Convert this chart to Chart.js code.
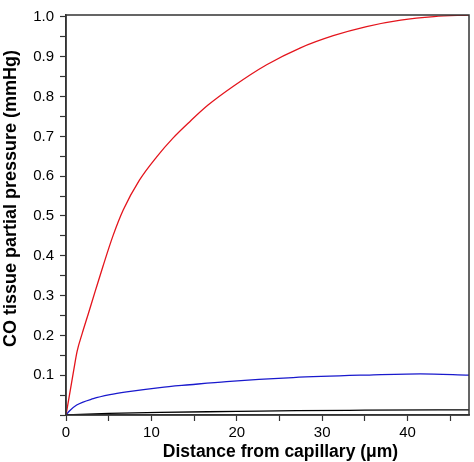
<!DOCTYPE html>
<html>
<head>
<meta charset="utf-8">
<script src="https://cdn.jsdelivr.net/npm/chart.js@4/dist/chart.umd.min.js"></script>
<style>
    html, body { margin: 0; padding: 0; background: #fff; }
    #wrap { width: 474px; height: 462px; }
</style>
</head>
<body>
<div id="wrap"><canvas id="c"></canvas></div>
<script>
// データ
const redX   = [0, 0.5, 0.9, 1.3, 1.9, 2.65, 3.45, 4.35, 5.5, 6.7, 8.6, 10.6, 12.5, 14.5, 16.6, 19.6, 23.5, 27.4, 31.3, 35.2, 39.2, 43.1, 47.2];
const redY   = [0, 0.062, 0.112, 0.16, 0.205, 0.257, 0.313, 0.375, 0.45, 0.515, 0.59, 0.648, 0.695, 0.737, 0.778, 0.826, 0.88, 0.922, 0.953, 0.976, 0.992, 1.001, 1.005];
const blueX  = [0, 0.4, 1.25, 3.2, 5.15, 7.1, 11, 14.5, 18.8, 26.6, 34.5, 41.5, 47.2];
const blueY  = [0, 0.01, 0.025, 0.041, 0.051, 0.058, 0.069, 0.076, 0.084, 0.094, 0.100, 0.1035, 0.100];
const blackX = [0, 5, 11, 20, 27, 35, 47.2];
const blackY = [0, 0.004, 0.0067, 0.009, 0.011, 0.012, 0.013];

const xTitle = 'Distance from capillary (μm)';
const yTitle = 'CO tissue partial pressure (mmHg)';
const FONT = '"Liberation Sans", Arial, sans-serif';

const toPoints = (xs, ys) => xs.map((x, i) => ({ x: x, y: ys[i] }));

function lineSet(data, color) {
    return {
        data: data,
        borderColor: color,
        borderWidth: 1.3,
        pointRadius: 0,
        fill: false,
        cubicInterpolationMode: 'monotone'
    };
}

// 枠線と軸タイトル
const framePlugin = {
    id: 'frame',
    afterDraw(chart) {
        const { ctx, chartArea: a } = chart;
        ctx.save();
        ctx.strokeStyle = '#333';
        ctx.lineWidth = 1.5;
        ctx.strokeRect(a.left, a.top, a.right - a.left, a.bottom - a.top);

        ctx.fillStyle = '#000';
        ctx.textAlign = 'center';
        ctx.textBaseline = 'middle';
        ctx.font = 'bold 17.5px ' + FONT;
        ctx.fillText(xTitle, (a.left + a.right) / 2 + 13, a.bottom + 37);

        ctx.font = 'bold 18px ' + FONT;
        ctx.translate(11, (a.top + a.bottom) / 2 - 16.5);
        ctx.rotate(-Math.PI / 2);
        ctx.fillText(yTitle, 0, 0);
        ctx.restore();
    }
};

const isTenth = v => Math.abs(v * 10 - Math.round(v * 10)) < 1e-6;

new Chart(document.getElementById('c'), {
    type: 'line',
    data: {
        datasets: [
            lineSet(toPoints(redX, redY), 'rgb(228, 20, 28)'),
            lineSet(toPoints(blueX, blueY), 'rgb(25, 25, 205)'),
            lineSet(toPoints(blackX, blackY), '#000')
        ]
    },
    options: {
        responsive: true,
        maintainAspectRatio: false,
        animation: false,
        layout: { padding: { top: 10, right: 5, left: 0, bottom: 0 } },
        plugins: {
            legend: { display: false },
            tooltip: { enabled: false }
        },
        scales: {
            x: {
                type: 'linear',
                min: 0,
                max: 47.2,
                afterFit: s => { s.height = 47; },
                border: { color: '#333', width: 1.5 },
                grid: { drawOnChartArea: false, tickLength: 6, tickColor: '#333', tickWidth: 1.2 },
                ticks: {
                    stepSize: 5,
                    includeBounds: false,
                    padding: 3,
                    maxRotation: 0,
                    autoSkip: false,
                    color: '#000',
                    font: { family: FONT, size: 15 },
                    callback: v => (Math.round(v) % 10 === 0 ? String(Math.round(v)) : '')
                }
            },
            y: {
                type: 'linear',
                min: 0,
                max: 1.005,
                afterFit: s => { s.width = 66; },
                border: { color: '#333', width: 1.5 },
                grid: { drawOnChartArea: false, tickLength: 6, tickColor: '#333', tickWidth: 1.2 },
                ticks: {
                    stepSize: 0.05,
                    includeBounds: false,
                    padding: 6,
                    autoSkip: false,
                    color: '#000',
                    font: { family: FONT, size: 15 },
                    callback: v => (v > 0.01 && isTenth(v) ? v.toFixed(1) : '')
                }
            }
        }
    },
    plugins: [framePlugin]
});
</script>
</body>
</html>
